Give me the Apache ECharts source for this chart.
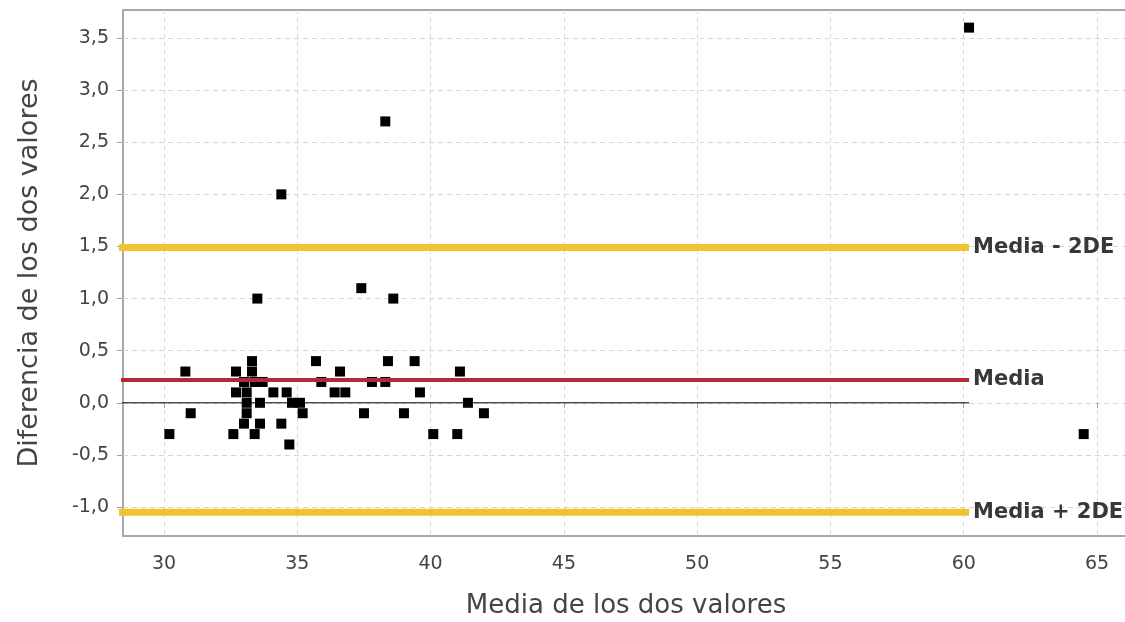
<!DOCTYPE html>
<html>
<head>
<meta charset="utf-8">
<script src="https://cdn.jsdelivr.net/npm/echarts@6/dist/echarts.min.js"></script>
<style>
html,body{margin:0;padding:0;background:#fff;}
#chart{width:1125px;height:622px;}
</style>
</head>
<body>
<div id="chart"></div>
<script>
// ---- data ----
const meanValues = [60.2, 64.5, 38.3, 34.4, 33.5, 37.4, 38.6,
  30.2, 30.8, 31.0,
  32.7, 32.7, 32.6,
  33.3, 33.3, 33.0, 33.4, 33.7,
  33.1, 33.1, 33.1, 33.0,
  33.4, 33.6, 33.6,
  34.1, 34.6, 34.4, 34.7,
  34.8, 35.1, 35.2,
  35.7, 35.9, 36.6, 36.4, 36.8,
  37.5, 37.8, 38.3, 38.4, 39.0, 39.4, 39.6,
  40.1, 41.0, 41.1, 41.4, 42.0];
const diffValues = [3.6, -0.3, 2.7, 2.0, 1.0, 1.1, 1.0,
  -0.3, 0.3, -0.1,
  0.3, 0.1, -0.3,
  0.4, 0.3, 0.2, 0.2, 0.2,
  0.1, 0.0, -0.1, -0.2,
  -0.3, -0.2, 0.0,
  0.1, 0.1, -0.2, -0.4,
  0.0, 0.0, -0.1,
  0.4, 0.2, 0.3, 0.1, 0.1,
  -0.1, 0.2, 0.2, 0.4, -0.1, 0.4, 0.1,
  -0.3, -0.3, 0.3, 0.0, -0.1];
const limitNames = ['Media - 2DE', 'Media', 'Media + 2DE'];
const limitValues = [1.49, 0.22, -1.05];
const zeroValue = [0];
const lineSpanX = [28.0, 60.2];
const xTicks = [30, 35, 40, 45, 50, 55, 60, 65];
const yTicks = [-1.0, -0.5, 0.0, 0.5, 1.0, 1.5, 2.0, 2.5, 3.0, 3.5];
const xRange = [28.46, 66.2];
const yRange = [-1.278, 3.769];
const xTitle = 'Media de los dos valores';
const yTitle = 'Diferencia de los dos valores';

const FONT = 'DejaVu Sans';
const fmt = v => Number(v).toFixed(1).replace('.', ',');
const limitColors = ['#f1c232', '#b12a38', '#f1c232'];
const limitWidths = [7, 4, 7];

const pts = meanValues.map((x, i) => [x, diffValues[i]]);

const lineSeries = limitNames.map((name, i) => ({
  name: name,
  type: 'line',
  data: lineSpanX.map(x => [x, limitValues[i]]),
  showSymbol: false,
  symbol: 'none',
  silent: true,
  z: i === 1 ? 4 : 2,
  lineStyle: {color: limitColors[i], width: limitWidths[i]},
  endLabel: {
    show: true,
    formatter: '{a}',
    distance: 4,
    color: '#383838',
    fontFamily: FONT,
    fontWeight: 'bold',
    fontSize: 21
  }
}));

const chart = echarts.init(document.getElementById('chart'));
chart.setOption({
  animation: false,
  backgroundColor: '#ffffff',
  grid: {
    left: 123, top: 10, width: 1006, height: 526,
    outerBoundsMode: 'none',
    containLabel: false,
    show: true, borderColor: '#a8a8a8', borderWidth: 2, backgroundColor: 'transparent'
  },
  xAxis: {
    type: 'value',
    min: xRange[0], max: xRange[1],
    name: xTitle,
    nameLocation: 'middle',
    nameGap: 57,
    nameTextStyle: {fontFamily: FONT, fontSize: 26, color: '#444'},
    axisLine: {show: false},
    axisTick: {show: true, length: 5, lineStyle: {color: '#a0a0a0'}, customValues: xTicks},
    axisLabel: {fontFamily: FONT, fontSize: 19, color: '#444', margin: 19, customValues: xTicks, formatter: v => String(v)},
    splitLine: {show: true, lineStyle: {color: '#d6d6d6', type: [4, 4], width: 1}}
  },
  yAxis: {
    type: 'value',
    min: yRange[0], max: yRange[1],
    name: yTitle,
    nameLocation: 'middle',
    nameGap: 80,
    nameRotate: 90,
    nameTextStyle: {fontFamily: FONT, fontSize: 27, color: '#444'},
    axisLine: {show: false},
    axisTick: {show: true, length: 6, lineStyle: {color: '#a0a0a0'}, customValues: yTicks},
    axisLabel: {fontFamily: FONT, fontSize: 19, color: '#444', margin: 14, customValues: yTicks, formatter: fmt},
    splitLine: {show: true, lineStyle: {color: '#d6d6d6', type: [5, 4], width: 1}}
  },
  series: [
    ...lineSeries,
    {
      name: 'cero',
      type: 'line',
      data: lineSpanX.map(x => [x, zeroValue[0]]),
      showSymbol: false,
      symbol: 'none',
      silent: true,
      z: 2,
      lineStyle: {color: '#000', width: 1}
    },
    {
      name: 'puntos',
      type: 'scatter',
      data: pts,
      symbol: 'rect',
      symbolSize: 10,
      z: 3,
      itemStyle: {color: '#000', opacity: 1}
    }
  ]
});
</script>
</body>
</html>
